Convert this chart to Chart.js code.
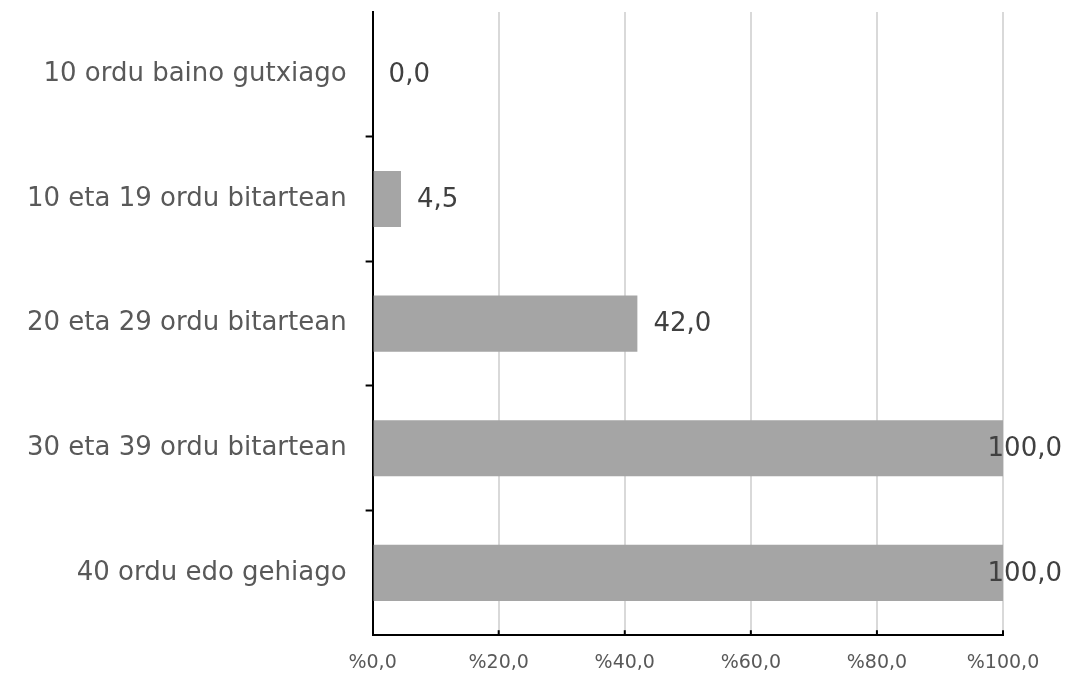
<!DOCTYPE html>
<html>
<head>
<meta charset="utf-8">
<script src="https://cdn.jsdelivr.net/npm/chart.js@4"></script>
<style>
  html, body { margin: 0; padding: 0; background: #fff; }
  #wrap { width: 1065px; height: 674px; }
</style>
</head>
<body>
<div id="wrap"><canvas id="barChart"></canvas></div>
<script>
'use strict';

const categories = [
    '10 ordu baino gutxiago',
    '10 eta 19 ordu bitartean',
    '20 eta 29 ordu bitartean',
    '30 eta 39 ordu bitartean',
    '40 ordu edo gehiago'
];
const values = [0.0, 4.5, 42.0, 100.0, 100.0];
const xTicks = [0, 20, 40, 60, 80, 100];

const fmt = v => v.toFixed(1).replace('.', ',');

// value labels next to each bar
const barLabels = {
    id: 'barLabels',
    afterDatasetsDraw(chart) {
        const ctx = chart.ctx;
        const meta = chart.getDatasetMeta(0);
        ctx.save();
        ctx.font = '26px "DejaVu Sans"';
        ctx.fillStyle = '#404040';
        ctx.textBaseline = 'middle';
        meta.data.forEach((bar, i) => {
            const txt = fmt(values[i]);
            const w = ctx.measureText(txt).width;
            let x = bar.x + 16;
            if (x + w > chart.width - 3) x = chart.width - 3 - w;
            ctx.fillText(txt, x, bar.y + 1);
        });
        ctx.restore();
    }
};

// small inward tick marks on the x axis
const xInTicks = {
    id: 'xInTicks',
    afterDraw(chart) {
        const ctx = chart.ctx;
        const sx = chart.scales.x;
        const bottom = chart.chartArea.bottom;
        ctx.save();
        ctx.strokeStyle = '#000';
        ctx.lineWidth = 2;
        xTicks.forEach(t => {
            if (t === 0) return;
            const px = sx.getPixelForValue(t);
            ctx.beginPath();
            ctx.moveTo(px, bottom);
            ctx.lineTo(px, bottom - 5);
            ctx.stroke();
        });
        ctx.restore();
    }
};

const ctx = document.getElementById('barChart').getContext('2d');
new Chart(ctx, {
    type: 'bar',
    data: {
        labels: categories,
        datasets: [{
            data: values,
            backgroundColor: '#a5a5a5',
            borderWidth: 0,
            categoryPercentage: 1.0,
            barPercentage: 0.45
        }]
    },
    options: {
        indexAxis: 'y',
        responsive: true,
        maintainAspectRatio: false,
        animation: false,
        layout: { padding: { top: 12, right: 62, bottom: -16, left: 8 } },
        plugins: {
            legend: { display: false },
            tooltip: { enabled: false }
        },
        scales: {
            x: {
                min: 0,
                max: 100,
                afterBuildTicks: scale => { scale.ticks = xTicks.map(v => ({ value: v })); },
                ticks: {
                    callback: v => '%' + fmt(v),
                    font: { family: 'DejaVu Sans', size: 19 },
                    color: '#595959',
                    padding: 16,
                    maxRotation: 0
                },
                grid: {
                    color: '#d9d9d9',
                    lineWidth: 2,
                    drawTicks: false
                },
                border: { display: true, color: '#000', width: 2 }
            },
            y: {
                afterFit: scale => { scale.paddingTop = 0; scale.paddingBottom = 0; },
                ticks: {
                    font: { family: 'DejaVu Sans', size: 26 },
                    color: '#595959',
                    padding: 19
                },
                grid: {
                    offset: true,
                    drawOnChartArea: false,
                    drawTicks: true,
                    tickLength: 7,
                    tickColor: c => (c.index > 0 && c.index < categories.length) ? '#000' : 'rgba(0,0,0,0)',
                    tickWidth: 2
                },
                border: { display: true, color: '#000', width: 2 }
            }
        }
    },
    plugins: [barLabels, xInTicks]
});
</script>
</body>
</html>
